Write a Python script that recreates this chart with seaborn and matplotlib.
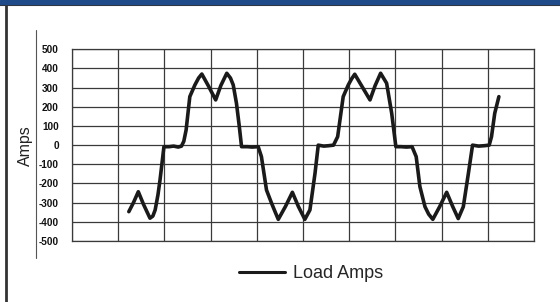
import matplotlib
matplotlib.use("Agg")
import matplotlib.pyplot as plt
import seaborn as sns
import pandas as pd
from matplotlib.lines import Line2D
from matplotlib.patches import Rectangle

# ---- data (x in grid divisions, amps) ----
t = [1.23, 1.33, 1.435, 1.55, 1.688, 1.75, 1.80, 1.86, 1.905, 1.95, 1.99, 2.10, 2.20, 2.30, 2.37,
     2.42, 2.47, 2.55, 2.66, 2.74, 2.81, 2.95, 3.11, 3.22, 3.35, 3.43, 3.49, 3.56, 3.62, 3.67,
     3.80, 3.90, 4.03, 4.10, 4.21, 4.32, 4.40, 4.465, 4.62, 4.77, 4.90, 5.04, 5.15, 5.26, 5.33,
     5.45, 5.55, 5.66, 5.75, 5.87, 5.98, 6.05, 6.12, 6.28, 6.45, 6.56, 6.68, 6.81, 6.92, 7.01,
     7.12, 7.24, 7.36, 7.45, 7.53, 7.64, 7.72, 7.81, 7.96, 8.11, 8.24, 8.36, 8.47, 8.58, 8.67,
     8.80, 8.92, 9.03, 9.08, 9.15, 9.24]
amps = [-347, -300, -243, -310, -381, -370, -338, -260, -182, -90, -8, -8, -5, -10, -5,
        20, 79, 253, 314, 350, 371, 310, 236, 310, 375, 350, 314, 218, 100, -8,
        -8, -10, -8, -60, -234, -303, -350, -387, -320, -246, -320, -387, -338, -147, 0,
        -5, -3, 0, 44, 253, 314, 345, 370, 305, 236, 310, 375, 323, 166, -8,
        -8, -10, -8, -60, -216, -321, -360, -387, -320, -246, -320, -383, -321, -147, 0,
        -5, -3, 0, 44, 166, 253]
yticks = [500, 400, 300, 200, 100, 0, -100, -200, -300, -400, -500]
series_name = "Load Amps"

df = pd.DataFrame({"t": t, "amps": amps, "series": series_name})

sns.set_style("white")
plt.rcParams["font.family"] = ["Liberation Sans", "DejaVu Sans"]

fig = plt.figure(figsize=(5.6, 3.02), dpi=100)
ax = fig.add_axes([72 / 560, 1 - 241 / 302, (534 - 72) / 560, (241 - 49.3) / 302])

sns.lineplot(data=df, x="t", y="amps", ax=ax, color="#1a1a1a", linewidth=2.6,
             legend=False, sort=False)

ax.set_xlim(0, 10)
ax.set_ylim(-500, 500)
ax.set_xticks(range(0, 11))
ax.set_xticklabels([])
ax.set_yticks(yticks)
ax.set_yticklabels([str(v) for v in yticks], fontsize=7.2, fontweight="bold", color="#111111")
ax.tick_params(axis="both", length=0, pad=9.5)
ax.grid(True, color="#3a3a3a", linewidth=0.9)
for s in ax.spines.values():
    s.set_color("#3a3a3a")
    s.set_linewidth(0.9)
ax.set_xlabel("")
ax.set_ylabel("Amps", fontsize=11.5, color="#222222")
ax.yaxis.set_label_coords(-0.084, 0.5)

# legend
handle = Line2D([0], [0], color="#1a1a1a", linewidth=2.2)
fig.legend([handle], [series_name], loc="center", bbox_to_anchor=(311 / 560, 1 - 274 / 302),
           frameon=False, fontsize=13, handlelength=2.55, handletextpad=0.45)

# decorative frame elements
fig.patches.append(Rectangle((0, 1 - 4 / 302), 1, 4 / 302, transform=fig.transFigure,
                             color="#1f4a8a", zorder=5))
fig.add_artist(Line2D([0, 1], [1 - 4.8 / 302, 1 - 4.8 / 302], transform=fig.transFigure,
                      color="#333333", linewidth=1.5))
fig.add_artist(Line2D([6 / 560, 6 / 560], [0, 1 - 4 / 302], transform=fig.transFigure,
                      color="#333333", linewidth=2))
fig.add_artist(Line2D([35.5 / 560, 35.5 / 560], [1 - 258 / 302, 1 - 30 / 302],
                      transform=fig.transFigure, color="#555555", linewidth=0.8))

fig.savefig("out.png", dpi=100)
